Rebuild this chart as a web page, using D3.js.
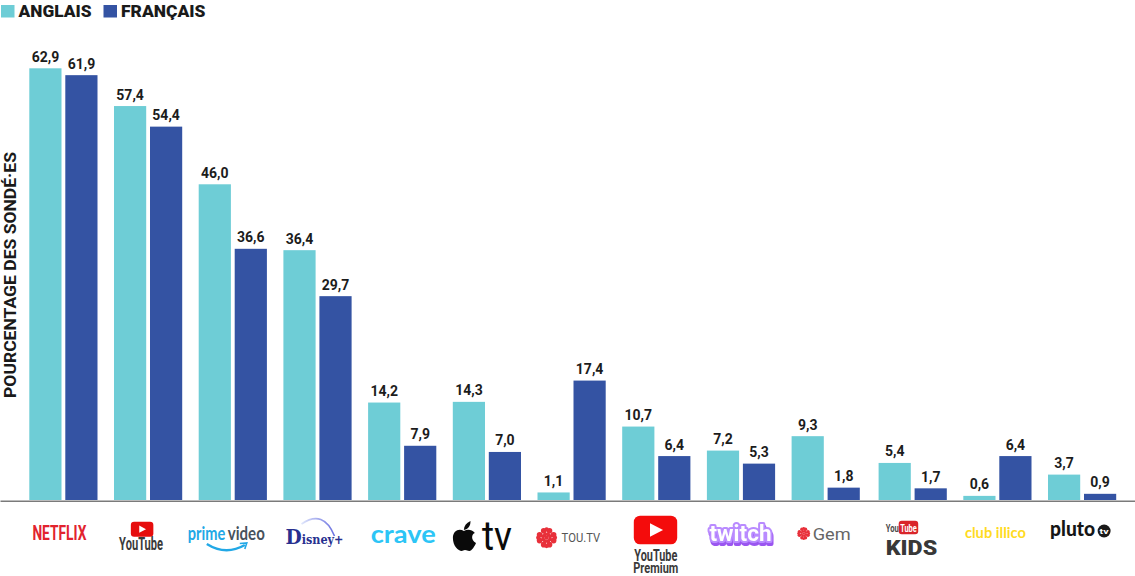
<!DOCTYPE html>
<html lang="fr">
<head>
<meta charset="utf-8">
<title>Plateformes de diffusion en continu</title>
<script src="https://cdn.jsdelivr.net/npm/d3@7/dist/d3.min.js"></script>
<style>
  html, body { margin: 0; background: #fff; }
  svg { display: block; }
  text { font-family: Roboto, "Liberation Sans", sans-serif; }
</style>
</head>
<body>
<svg id="chart" width="1135" height="576"></svg>
<script>
// Plateformes, dans l'ordre de l'axe
const platforms = ["Netflix", "YouTube", "Prime Video", "Disney+", "Crave", "Apple TV", "TOU.TV",
  "YouTube Premium", "Twitch", "Gem", "YouTube Kids", "Club illico", "Pluto TV"];
const seriesNames = ["ANGLAIS", "FRANÇAIS"];
const seriesColors = ["#6ecdd6", "#3453a3"];
const anglais = [62.9, 57.4, 46.0, 36.4, 14.2, 14.3, 1.1, 10.7, 7.2, 9.3, 5.4, 0.6, 3.7];
const francais = [61.9, 54.4, 36.6, 29.7, 7.9, 7.0, 17.4, 6.4, 5.3, 1.8, 1.7, 6.4, 0.9];
const yTitle = "POURCENTAGE DES SONDÉ·ES";

const svg = d3.select("#chart");
const baseY = 500;

const band = d3.scaleBand().domain(platforms).range([29.3, 1113.9]).paddingInner(0.1948).paddingOuter(0);
// Les trois dernières plateformes sont légèrement décalées vers la droite
const lastGroupShift = 2.3;
const x = p => band(p) + (platforms.indexOf(p) >= 10 ? lastGroupShift : 0);
const xSeries = d3.scaleBand().domain(seriesNames).range([0, band.bandwidth()]).paddingInner(0.1056);
const y = d3.scaleLinear().domain([0, 62.9]).range([baseY, 68.3]);
const color = d3.scaleOrdinal(seriesNames, seriesColors);
const fr = d3.format(".1f");

// Barres et étiquettes de valeur
seriesNames.forEach((name, s) => {
  const values = s === 0 ? anglais : francais;
  const g = svg.append("g");
  g.selectAll("rect").data(values).join("rect")
    .attr("x", (d, i) => x(platforms[i]) + xSeries(name))
    .attr("y", d => y(d))
    .attr("width", xSeries.bandwidth())
    .attr("height", d => baseY - y(d))
    .attr("fill", color(name));
  g.selectAll("text").data(values).join("text")
    .attr("x", (d, i) => x(platforms[i]) + xSeries(name) + xSeries.bandwidth() / 2)
    .attr("y", d => y(d) - 6.5)
    .attr("text-anchor", "middle")
    .attr("font-size", 14).attr("font-weight", 700).attr("fill", "#1c1c1c")
    .text(d => fr(d).replace(".", ","));
});

// Ligne de base
const axis = svg.append("g").attr("transform", `translate(0,${baseY + 0.7})`)
  .call(d3.axisBottom(d3.scaleLinear().domain([0, 1]).range([0, 1135])).tickValues([]).tickSize(0));
axis.select(".domain").attr("stroke", "#7a7a7a").attr("stroke-width", 1.5);

// Légende
const legendX = [1, 103.5];
const legendWidths = [73, 84.5];
seriesNames.forEach((name, i) => {
  svg.append("rect").attr("x", legendX[i]).attr("y", 5).attr("width", 13.5).attr("height", 12.5).attr("fill", color(name));
  svg.append("text").attr("x", legendX[i] + 17.5).attr("y", 17.3)
    .attr("font-size", 17).attr("font-weight", 900).attr("fill", "#1a1a1a")
    .attr("textLength", legendWidths[i]).attr("lengthAdjust", "spacingAndGlyphs")
    .text(name);
});

// Titre de l'axe vertical
svg.append("text").attr("transform", "translate(15.6,275) rotate(-90)")
  .attr("text-anchor", "middle").attr("font-size", 16.5).attr("font-weight", 700).attr("fill", "#1a1a1a")
  .attr("textLength", 246).attr("lengthAdjust", "spacingAndGlyphs")
  .text(yTitle);

// --- Logotypes sous l'axe ---
function word(g, str, px, py, size, width, fill, opts = {}) {
  const t = g.append("text").attr("x", px).attr("y", py).attr("font-size", size).attr("fill", fill)
    .attr("font-weight", opts.weight || 700).attr("textLength", width).attr("lengthAdjust", "spacingAndGlyphs")
    .text(str);
  if (opts.family) t.style("font-family", opts.family);
  return t;
}
function playButton(g, cx, cy, w, h, fill = "#e60d0d") {
  g.append("rect").attr("x", cx - w / 2).attr("y", cy - h / 2).attr("width", w).attr("height", h).attr("rx", h * 0.22).attr("fill", fill);
  const s = h * 0.24;
  g.append("path").attr("d", `M${cx - s * 0.8},${cy - s}L${cx + s * 1.1},${cy}L${cx - s * 0.8},${cy + s}Z`).attr("fill", "#fff");
}
function cbcGem(g, cx, cy, r) {
  const red = "#e8303a";
  d3.range(8).forEach(k => {
    const a = k * Math.PI / 4 + Math.PI / 8;
    g.append("circle").attr("cx", cx + Math.cos(a) * r * 0.72).attr("cy", cy + Math.sin(a) * r * 0.72).attr("r", r * 0.27).attr("fill", red);
    g.append("circle").attr("cx", cx + Math.cos(a) * r * 0.36).attr("cy", cy + Math.sin(a) * r * 0.36).attr("r", r * 0.19).attr("fill", red);
  });
  [[0, -0.8], [0, 0.8], [-0.8, 0], [0.8, 0]].forEach(([dx, dy]) =>
    g.append("circle").attr("cx", cx + dx * r).attr("cy", cy + dy * r).attr("r", r * 0.2).attr("fill", red));
  g.append("circle").attr("cx", cx).attr("cy", cy).attr("r", r * 0.2).attr("fill", red);
}
const narrow = '"Liberation Sans Narrow", Roboto, sans-serif';
const lato = "Lato, sans-serif";

// Dégradé de l'arc de Disney+
const defs = svg.append("defs");
const arcGrad = defs.append("linearGradient").attr("id", "disneyArc");
arcGrad.append("stop").attr("offset", "0%").attr("stop-color", "#dfe6fb");
arcGrad.append("stop").attr("offset", "100%").attr("stop-color", "#6a70e0");

const logos = {
  "Netflix": (g, c) => word(g, "NETFLIX", c - 31, 540, 21, 54, "#e2232e", { family: narrow }),
  "YouTube": (g, c) => {
    playButton(g, c - 6, 529.2, 22.5, 15);
    word(g, "YouTube", c - 29, 550, 19, 44, "#3a3a3a", { family: narrow });
  },
  "Prime Video": (g, c) => {
    word(g, "prime", c - 45, 540, 18, 37.5, "#22a8e6", { family: lato });
    word(g, "video", c - 5, 540, 18, 37, "#47525c", { family: lato });
    const l = c - 26;
    g.append("path").attr("d", `M${l},544Q${l + 19},556 ${l + 38},545`).attr("fill", "none").attr("stroke", "#22a8e6").attr("stroke-width", 2.4);
    g.append("path").attr("d", `M${l + 33},543.5L${l + 40},543L${l + 38},549`).attr("fill", "none").attr("stroke", "#22a8e6").attr("stroke-width", 1.6);
  },
  "Disney+": (g, c) => {
    const t = g.append("text").attr("x", c - 32).attr("y", 544).attr("fill", "#28308f").attr("font-weight", 700)
      .attr("textLength", 58).attr("lengthAdjust", "spacingAndGlyphs")
      .style("font-family", '"DejaVu Serif", serif');
    t.append("tspan").attr("font-size", 20).text("D");
    t.append("tspan").attr("font-size", 12).text("isney+");
    const l = c - 16;
    g.append("path").attr("d", `M${l},524Q${l + 22},509 ${l + 33},536`).attr("fill", "none").attr("stroke", "url(#disneyArc)").attr("stroke-width", 1.6);
  },
  "Crave": (g, c) => word(g, "crave", c - 31.5, 543, 24, 65, "#2cc5f6", { family: lato, weight: 700 }),
  "Apple TV": (g, c) => {
    const a = c - 34, b = 538;
    const apple = g.append("g").attr("transform", `translate(${a},${b}) scale(1.1,1) translate(${-a},${-b})`).attr("fill", "#0a0a0a");
    apple.append("path").attr("d",
      `M${a + 10},${b - 7}C${a + 6},${b - 10} ${a},${b - 8} ${a},${b}C${a},${b + 8} ${a + 5},${b + 13} ${a + 8},${b + 13}`
      + `C${a + 9},${b + 13} ${a + 9.5},${b + 12} ${a + 11},${b + 12}C${a + 13},${b + 12} ${a + 13},${b + 13} ${a + 15},${b + 13}`
      + `C${a + 17},${b + 13} ${a + 20},${b + 8} ${a + 21},${b + 5}C${a + 16},${b + 2} ${a + 17},${b - 4} ${a + 20},${b - 5}`
      + `C${a + 17},${b - 9} ${a + 13},${b - 9} ${a + 10},${b - 7}Z`);
    apple.append("path").attr("d",
      `M${a + 10},${b - 8}C${a + 10},${b - 12} ${a + 12},${b - 15} ${a + 16},${b - 17}C${a + 16},${b - 12} ${a + 14},${b - 9} ${a + 10},${b - 8}Z`);
    word(g, "tv", c - 5, 550, 41, 30, "#0a0a0a", { weight: 400 });
  },
  "TOU.TV": (g, c) => {
    cbcGem(g, c - 25, 537.7, 10.5);
    word(g, "TOU.TV", c - 10, 541.7, 13, 38.5, "#555", { weight: 400 });
  },
  "YouTube Premium": (g, c) => {
    playButton(g, c - 0.8, 530, 43.4, 28.6, "#f40c0c");
    word(g, "YouTube", c - 22, 560.5, 16, 43, "#3a3a3a", { family: narrow });
    word(g, "Premium", c - 23, 573, 14.5, 45, "#3a3a3a", { family: narrow });
  },
  "Twitch": (g, c) => {
    // Lettres blanches sur contour violet, avec une ombre portée plus foncée
    word(g, "twitch", c - 31.5, 541, 22, 62, "#fff", { family: narrow })
      .attr("stroke", "#b98bff").attr("stroke-width", 4).attr("paint-order", "stroke").attr("stroke-linejoin", "round")
      .style("filter", "drop-shadow(1px 3px 0 #9a55f0)");
  },
  "Gem": (g, c) => {
    cbcGem(g, c - 22, 533.5, 6.5);
    word(g, "Gem", c - 13, 540, 16.5, 38, "#666", { weight: 400 });
  },
  "YouTube Kids": (g, c) => {
    word(g, "You", c - 27, 532, 11, 13, "#4a4a4a", { family: narrow });
    g.append("rect").attr("x", c - 14).attr("y", 520.7).attr("width", 19.5).attr("height", 13.6).attr("rx", 3).attr("fill", "#d9252a");
    word(g, "Tube", c - 12.5, 532, 11, 16.5, "#fff", { family: narrow });
    word(g, "KIDS", c - 27, 555, 21, 51.5, "#383838", { weight: 900 });
  },
  "Club illico": (g, c) => word(g, "club illico", c - 32.5, 537.7, 15, 61, "#ffdb1f", { family: lato, weight: 700 }),
  "Pluto TV": (g, c) => {
    word(g, "pluto", c - 32, 536, 21, 45, "#161616", { family: lato, weight: 900 });
    g.append("circle").attr("cx", c + 22).attr("cy", 531).attr("r", 6.5).attr("fill", "#1a1a1a");
    word(g, "tv", c + 17.5, 534, 8, 9, "#fff");
  }
};

platforms.forEach(p => {
  const g = svg.append("g").attr("class", "logo");
  logos[p](g, x(p) + band.bandwidth() / 2);
});
</script>
</body>
</html>
